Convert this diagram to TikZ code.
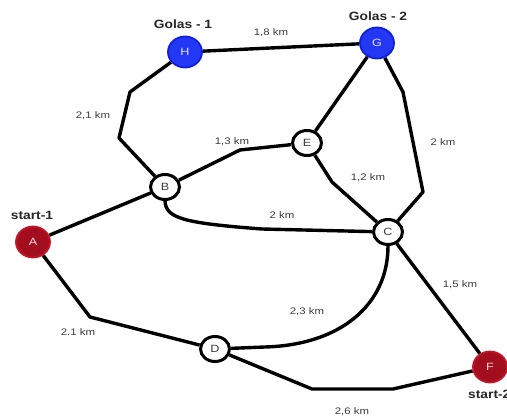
\documentclass[tikz,border=0pt]{standalone}
\usepackage{fontspec}
\setmainfont{Liberation Sans}
\newfontfamily\wide[FakeStretch=1.2]{Liberation Sans}
\newfontfamily\widebold[FakeStretch=1.15]{Liberation Sans Bold}
\usetikzlibrary{shapes.geometric,backgrounds}
\definecolor{goalblue}{HTML}{2238F5}
\definecolor{goaledge}{HTML}{1020D8}
\definecolor{startred}{HTML}{A30E1E}
\definecolor{startedge}{HTML}{C21628}
\definecolor{labgray}{HTML}{3A3A40}
\tikzset{
  road/.style={line width=3.4pt, black, line join=round},
  plain/.style={ellipse, draw=black, line width=3pt, fill=white,
    minimum width=29pt, minimum height=25pt, inner sep=0pt,
    font=\wide\fontsize{10.5}{12}\selectfont, text=labgray},
  goal/.style={ellipse, draw=goaledge, line width=1.8pt, fill=goalblue,
    minimum width=34pt, minimum height=31pt, inner sep=0pt,
    font=\wide\fontsize{10.5}{12}\selectfont, text=white!90!blue},
  origin/.style={ellipse, draw=startedge, line width=1.8pt, fill=startred,
    minimum width=34pt, minimum height=31pt, inner sep=0pt,
    font=\wide\fontsize{10.5}{12}\selectfont, text=white!85!red},
  dist/.style={font=\wide\fontsize{9.5}{11}\selectfont, text=labgray, inner sep=1pt},
  tag/.style={font=\widebold\fontsize{12}{14}\selectfont, text=black!85, inner sep=1pt}
}
\begin{document}
\begin{tikzpicture}[x=1pt, y=-1pt]
\useasboundingbox (0,0) rectangle (507,419);

% junctions
\node[goal]   (H) at (185,52)  {H};
\node[goal]   (G) at (377,43)  {G};
\node[plain]  (E) at (307,143) {E};
\node[plain]  (B) at (165,187) {B};
\node[plain]  (C) at (388,232) {C};
\node[origin] (A) at (33,242)  {A};
\node[plain]  (D) at (215,349) {D};
\node[origin] (F) at (490,367) {F};

% bends of the roads
\coordinate (hb1) at (130,92);
\coordinate (hb2) at (119,138);
\coordinate (be1) at (240,150);
\coordinate (ec1) at (332,182);
\coordinate (gc1) at (403,92);
\coordinate (gc2) at (423,192);
\coordinate (ad1) at (90,317);
\coordinate (df1) at (312,389);
\coordinate (df2) at (393,389);
\coordinate (bc1) at (262,229);
\coordinate (cd1) at (265,347);

% roads, kept behind the junctions
\begin{scope}[on background layer]
\draw[road] (H) -- (G);
\draw[road] (H) -- (hb1) -- (hb2) -- (B);
\draw[road] (B) -- (be1) -- (E);
\draw[road] (E) -- (G);
\draw[road] (E) -- (ec1) -- (C);
\draw[road] (G) -- (gc1) -- (gc2) -- (C);
\draw[road] (A) -- (B);
\draw[road] (B.south) .. controls (166,218) and (182,223) .. (bc1) -- (C);
\draw[road] (A) -- (ad1) -- (D);
\draw[road] (C.south) .. controls (388,305) and (340,345) .. (cd1) -- (D);
\draw[road] (C) -- (F);
\draw[road] (D) -- (df1) -- (df2) -- (F);
\end{scope}

% distances
\node[dist] (l1) at (271,33)  {1,8 km};
\node[dist] (l2) at (93,116)  {2,1 km};
\node[dist] (l3) at (232,142) {1,3 km};
\node[dist] (l4) at (368,178) {1,2 km};
\node[dist] (l5) at (282,215) {2 km};
\node[dist] (l6) at (443,142) {2 km};
\node[dist] (l7) at (78,332)  {2.1 km};
\node[dist] (l8) at (307,312) {2,3 km};
\node[dist] (l9) at (460,285) {1,5 km};
\node[dist] (l10) at (352,412) {2,6 km};

% goal and start tags
\node[tag] (t1) at (183,24) {Golas - 1};
\node[tag] (t2) at (378,16) {Golas - 2};
\node[tag] (t3) at (32,215) {start-1};
\node[tag, anchor=west] (t4) at (467,394) {start-2};
\end{tikzpicture}
\end{document}
